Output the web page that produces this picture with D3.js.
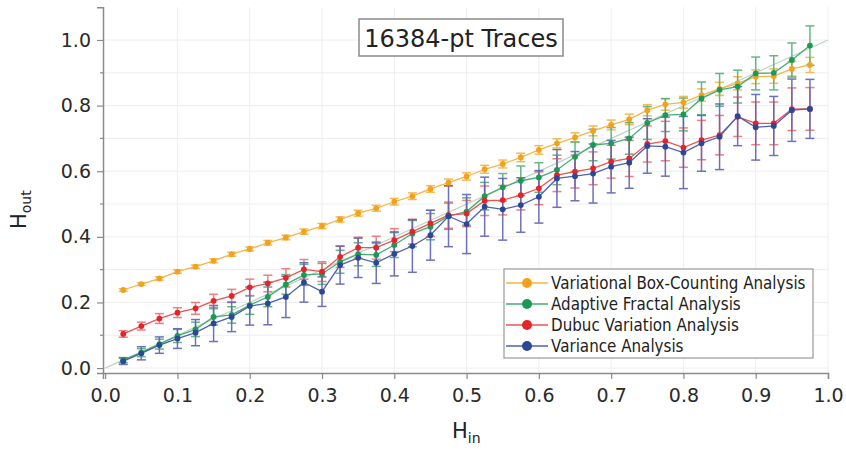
<!DOCTYPE html>
<html>
<head>
<meta charset="utf-8">
<script src="https://cdn.jsdelivr.net/npm/d3@7"></script>
<style>
  body { margin: 0; background: #fff; }
  svg { display: block; font-family: "DejaVu Sans", sans-serif; }
</style>
</head>
<body>
<svg width="846" height="449"></svg>
<script>
const svg = d3.select("svg");

// H_in values of the traces
const hIn = [0.025, 0.05, 0.075, 0.1, 0.125, 0.15, 0.175, 0.2, 0.225, 0.25,
  0.275, 0.3, 0.325, 0.35, 0.375, 0.4, 0.425, 0.45, 0.475, 0.5,
  0.525, 0.55, 0.575, 0.6, 0.625, 0.65, 0.675, 0.7, 0.725, 0.75,
  0.775, 0.8, 0.825, 0.85, 0.875, 0.9, 0.925, 0.95, 0.975];

const vbc = [0.238, 0.256, 0.273, 0.294, 0.309, 0.327, 0.347, 0.363, 0.382, 0.398,
  0.416, 0.433, 0.453, 0.472, 0.487, 0.507, 0.524, 0.546, 0.565, 0.584,
  0.606, 0.622, 0.642, 0.665, 0.685, 0.703, 0.723, 0.741, 0.758, 0.786,
  0.804, 0.81, 0.832, 0.851, 0.868, 0.888, 0.89, 0.912, 0.924];
const vbcErr = [0.004, 0.004, 0.005, 0.005, 0.005, 0.006, 0.006, 0.006, 0.007, 0.007,
  0.008, 0.008, 0.008, 0.009, 0.009, 0.01, 0.01, 0.01, 0.011, 0.011,
  0.012, 0.012, 0.013, 0.013, 0.014, 0.014, 0.015, 0.015, 0.016, 0.017,
  0.018, 0.018, 0.019, 0.02, 0.02, 0.021, 0.022, 0.022, 0.023];

const afa = [0.024, 0.047, 0.073, 0.098, 0.118, 0.156, 0.162, 0.192, 0.217, 0.255,
  0.284, 0.287, 0.324, 0.347, 0.345, 0.375, 0.41, 0.431, 0.463, 0.477,
  0.524, 0.551, 0.571, 0.581, 0.604, 0.644, 0.68, 0.685, 0.70, 0.747,
  0.771, 0.773, 0.822, 0.848, 0.858, 0.898, 0.90, 0.939, 0.983];
const afaErr = [0.008, 0.012, 0.015, 0.02, 0.022, 0.025, 0.025, 0.028, 0.03, 0.03,
  0.032, 0.032, 0.035, 0.035, 0.035, 0.038, 0.04, 0.04, 0.04, 0.042,
  0.042, 0.042, 0.045, 0.045, 0.045, 0.045, 0.048, 0.048, 0.048, 0.05,
  0.05, 0.05, 0.05, 0.05, 0.05, 0.05, 0.052, 0.052, 0.06];

const dva = [0.104, 0.128, 0.151, 0.169, 0.182, 0.205, 0.22, 0.246, 0.258, 0.275,
  0.301, 0.294, 0.339, 0.367, 0.367, 0.39, 0.416, 0.441, 0.466, 0.471,
  0.51, 0.512, 0.527, 0.548, 0.588, 0.599, 0.609, 0.629, 0.639, 0.683,
  0.692, 0.672, 0.695, 0.71, 0.766, 0.746, 0.746, 0.789, 0.79];
const dvaErr = [0.01, 0.012, 0.015, 0.015, 0.018, 0.02, 0.02, 0.025, 0.025, 0.028,
  0.03, 0.03, 0.032, 0.032, 0.035, 0.035, 0.038, 0.04, 0.04, 0.04,
  0.045, 0.045, 0.045, 0.05, 0.05, 0.05, 0.05, 0.05, 0.055, 0.055,
  0.06, 0.06, 0.06, 0.06, 0.06, 0.065, 0.065, 0.065, 0.065];

const va = [0.021, 0.045, 0.07, 0.09, 0.108, 0.136, 0.156, 0.189, 0.197, 0.217,
  0.261, 0.233, 0.314, 0.336, 0.321, 0.348, 0.372, 0.405, 0.463, 0.439,
  0.492, 0.484, 0.497, 0.522, 0.578, 0.585, 0.593, 0.614, 0.626, 0.677,
  0.675, 0.657, 0.685, 0.705, 0.768, 0.734, 0.738, 0.786, 0.79];
const vaErr = [0.01, 0.02, 0.025, 0.03, 0.04, 0.055, 0.045, 0.058, 0.065, 0.063,
  0.06, 0.045, 0.058, 0.06, 0.063, 0.067, 0.08, 0.076, 0.093, 0.09,
  0.09, 0.094, 0.083, 0.08, 0.088, 0.075, 0.09, 0.08, 0.078, 0.083,
  0.09, 0.11, 0.085, 0.1, 0.09, 0.1, 0.09, 0.095, 0.09];

const seriesNames = ["Variational Box-Counting Analysis", "Adaptive Fractal Analysis",
  "Dubuc Variation Analysis", "Variance Analysis"];
const xTicks = [0, 0.1, 0.2, 0.3, 0.4, 0.5, 0.6, 0.7, 0.8, 0.9, 1.0];
const yTicks = [0, 0.2, 0.4, 0.6, 0.8, 1.0];
const yMinor = [0.1, 0.3, 0.5, 0.7, 0.9];
const title = "16384-pt Traces";

const series = [
  { name: seriesNames[0], v: vbc, e: vbcErr, dot: "#f4a11c", line: "#f6b548", bar: "#f2b540" },
  { name: seriesNames[1], v: afa, e: afaErr, dot: "#1c9a55", line: "#45ad72", bar: "#52b07a" },
  { name: seriesNames[2], v: dva, e: dvaErr, dot: "#e4232a", line: "#ec5252", bar: "#e97474" },
  { name: seriesNames[3], v: va, e: vaErr, dot: "#2b4897", line: "#4c62b0", bar: "#5f62b4" },
];

const x = d3.scaleLinear().domain([-0.003, 1.0]).range([103, 828]);
const y = d3.scaleLinear().domain([-0.015, 1.1]).range([373, 7.2]);

// light grid
const grid = svg.append("g").attr("stroke", "#eeeeee").attr("stroke-width", 1);
grid.selectAll(".gx").data(xTicks.slice(1)).join("line")
  .attr("x1", d => x(d)).attr("x2", d => x(d)).attr("y1", y.range()[1]).attr("y2", y.range()[0]);
grid.selectAll(".gy").data(yTicks.concat(yMinor)).join("line")
  .attr("x1", x.range()[0]).attr("x2", x.range()[1]).attr("y1", d => y(d)).attr("y2", d => y(d));

// reference line H_out = H_in
svg.append("line")
  .attr("x1", x(0)).attr("y1", y(0)).attr("x2", x(1)).attr("y2", y(1))
  .attr("stroke", "#bcd3c4").attr("stroke-width", 1.2);

// axes
const xAxis = svg.append("g").attr("transform", `translate(0,${y.range()[0]})`)
  .call(d3.axisBottom(x).tickValues(xTicks).tickSize(6).tickPadding(10).tickFormat(d3.format(".1f")));
const yAxis = svg.append("g").attr("transform", `translate(${x.range()[0]},0)`)
  .call(d3.axisLeft(y).tickValues(yTicks).tickSize(6).tickPadding(6).tickFormat(d3.format(".1f")));
yAxis.selectAll(".minor").data(yMinor).join("line").attr("class", "minor")
  .attr("x1", -3).attr("x2", 0).attr("y1", d => y(d)).attr("y2", d => y(d))
  .attr("stroke", "#8a8a8a").attr("stroke-width", 1.2);
[xAxis, yAxis].forEach(a => {
  a.select(".domain").attr("stroke", "#8a8a8a").attr("stroke-width", 1.5);
  a.selectAll(".tick line").attr("stroke", "#8a8a8a").attr("stroke-width", 1.2);
  a.selectAll(".tick text").attr("fill", "#2a2a2a").style("font-size", "19px")
    .style("font-family", "DejaVu Sans, sans-serif");
});

// error bars
series.forEach(s => {
  const g = svg.append("g").attr("stroke", s.bar).attr("stroke-width", 1.5).attr("opacity", 0.9);
  hIn.forEach((h, i) => {
    const cx = x(h), y0 = y(s.v[i] - s.e[i]), y1 = y(s.v[i] + s.e[i]);
    g.append("line").attr("x1", cx).attr("x2", cx).attr("y1", y0).attr("y2", y1);
    g.append("line").attr("x1", cx - 4.5).attr("x2", cx + 4.5).attr("y1", y0).attr("y2", y0);
    g.append("line").attr("x1", cx - 4.5).attr("x2", cx + 4.5).attr("y1", y1).attr("y2", y1);
  });
});

// lines and markers
const line = d3.line().x((d, i) => x(hIn[i])).y(d => y(d));
series.forEach(s => {
  svg.append("path").datum(s.v).attr("d", line)
    .attr("fill", "none").attr("stroke", s.line).attr("stroke-width", 1.3);
});
series.forEach(s => {
  svg.append("g").selectAll("circle").data(s.v).join("circle")
    .attr("cx", (d, i) => x(hIn[i])).attr("cy", d => y(d)).attr("r", 2.9)
    .attr("fill", s.dot);
});

// title box
svg.append("rect").attr("x", 359).attr("y", 19).attr("width", 204).attr("height", 37)
  .attr("fill", "#fff").attr("stroke", "#8a8a8a").attr("stroke-width", 1.5);
svg.append("text").attr("x", 461).attr("y", 47).attr("text-anchor", "middle")
  .attr("fill", "#222").style("font-size", "24px").text(title);

// legend
const leg = svg.append("g");
leg.append("rect").attr("x", 504).attr("y", 269).attr("width", 309).attr("height", 89)
  .attr("fill", "#fff").attr("stroke", "#999").attr("stroke-width", 1.2);
series.forEach((s, i) => {
  const ly = 283 + i * 21;
  leg.append("line").attr("x1", 506).attr("x2", 548).attr("y1", ly).attr("y2", ly)
    .attr("stroke", s.line).attr("stroke-width", 1.3);
  leg.append("circle").attr("cx", 527).attr("cy", ly).attr("r", 5).attr("fill", s.dot);
  const t = leg.append("text").attr("x", 551).attr("y", ly + 6)
    .attr("fill", "#222").style("font-size", "17px").text(s.name);
  const w = t.node().getComputedTextLength();
  t.attr("textLength", w * 0.89).attr("lengthAdjust", "spacingAndGlyphs");
});

// axis labels
const xl = svg.append("text").attr("x", 452).attr("y", 438).attr("fill", "#222")
  .style("font-size", "21px");
xl.append("tspan").text("H");
xl.append("tspan").attr("dy", 5).style("font-size", "14px").text("in");

const yl = svg.append("text").attr("transform", "translate(26,229) rotate(-90)")
  .attr("fill", "#222").style("font-size", "21px");
yl.append("tspan").text("H");
yl.append("tspan").attr("dy", 5).style("font-size", "14px").text("out");
</script>
</body>
</html>
